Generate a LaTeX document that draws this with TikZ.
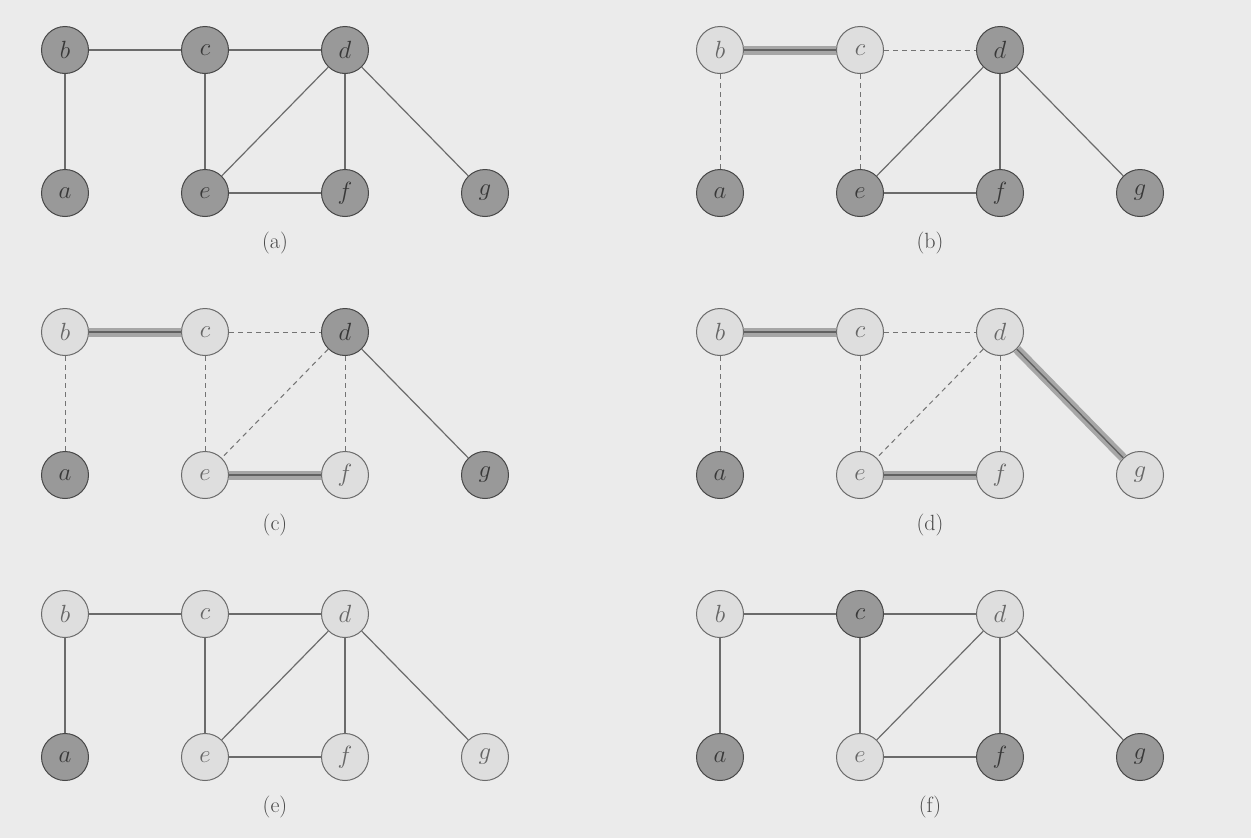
\documentclass[tikz,border=0pt]{standalone}
\usepackage{tikz}
\begin{document}
\begin{tikzpicture}[x=1pt,y=-1pt,
  nd/.style={circle, minimum size=47pt, inner sep=0pt, line width=1pt, font=\fontsize{28}{28}\selectfont},
  dk/.style={nd, draw=black!72, fill=black!40, text=black!78},
  lt/.style={nd, draw=black!58, fill=black!13, text=black!60},
  sol/.style={draw=black!58, line width=1.2pt},
  dsh/.style={draw=black!55, line width=1pt, dash pattern=on 5pt off 4pt},
  thk/.style={draw=black!62, line width=1.4pt, preaction={draw=black!35, line width=9pt}},
  lab/.style={font=\fontsize{22}{22}\selectfont, text=black!72}]
\fill[black!8] (0,0) rectangle (1251,838);
\useasboundingbox (0,0) rectangle (1251,838);

% ---------- (a)
\begin{scope}[shift={(65,50)}]
\node[dk] (aA) at (0,143) {$a$};
\node[dk] (bA) at (0,0) {$b$};
\node[dk] (cA) at (140,0) {$c$};
\node[dk] (dA) at (280,0) {$d$};
\node[dk] (eA) at (140,143) {$e$};
\node[dk] (fA) at (280,143) {$f$};
\node[dk] (gA) at (420,143) {$g$};
\node[lab] (lA) at (210,193) {(a)};
\draw[sol] (bA) -- (cA);
\draw[sol] (cA) -- (dA);
\draw[sol] (bA) -- (aA);
\draw[sol] (cA) -- (eA);
\draw[sol] (dA) -- (eA);
\draw[sol] (dA) -- (fA);
\draw[sol] (dA) -- (gA);
\draw[sol] (eA) -- (fA);
\end{scope}

% ---------- (b)
\begin{scope}[shift={(720,50)}]
\node[dk] (aB) at (0,143) {$a$};
\node[lt] (bB) at (0,0) {$b$};
\node[lt] (cB) at (140,0) {$c$};
\node[dk] (dB) at (280,0) {$d$};
\node[dk] (eB) at (140,143) {$e$};
\node[dk] (fB) at (280,143) {$f$};
\node[dk] (gB) at (420,143) {$g$};
\node[lab] (lB) at (210,193) {(b)};
\draw[thk] (bB) -- (cB);
\draw[dsh] (cB) -- (dB);
\draw[dsh] (bB) -- (aB);
\draw[dsh] (cB) -- (eB);
\draw[sol] (dB) -- (eB);
\draw[sol] (dB) -- (fB);
\draw[sol] (dB) -- (gB);
\draw[sol] (eB) -- (fB);
\end{scope}

% ---------- (c)
\begin{scope}[shift={(65,332)}]
\node[dk] (aC) at (0,143) {$a$};
\node[lt] (bC) at (0,0) {$b$};
\node[lt] (cC) at (140,0) {$c$};
\node[dk] (dC) at (280,0) {$d$};
\node[lt] (eC) at (140,143) {$e$};
\node[lt] (fC) at (280,143) {$f$};
\node[dk] (gC) at (420,143) {$g$};
\node[lab] (lC) at (210,193) {(c)};
\draw[thk] (bC) -- (cC);
\draw[dsh] (cC) -- (dC);
\draw[dsh] (bC) -- (aC);
\draw[dsh] (cC) -- (eC);
\draw[dsh] (dC) -- (eC);
\draw[dsh] (dC) -- (fC);
\draw[sol] (dC) -- (gC);
\draw[thk] (eC) -- (fC);
\end{scope}

% ---------- (d)
\begin{scope}[shift={(720,332)}]
\node[dk] (aD) at (0,143) {$a$};
\node[lt] (bD) at (0,0) {$b$};
\node[lt] (cD) at (140,0) {$c$};
\node[lt] (dD) at (280,0) {$d$};
\node[lt] (eD) at (140,143) {$e$};
\node[lt] (fD) at (280,143) {$f$};
\node[lt] (gD) at (420,143) {$g$};
\node[lab] (lD) at (210,193) {(d)};
\draw[thk] (bD) -- (cD);
\draw[dsh] (cD) -- (dD);
\draw[dsh] (bD) -- (aD);
\draw[dsh] (cD) -- (eD);
\draw[dsh] (dD) -- (eD);
\draw[dsh] (dD) -- (fD);
\draw[thk] (dD) -- (gD);
\draw[thk] (eD) -- (fD);
\end{scope}

% ---------- (e)
\begin{scope}[shift={(65,614)}]
\node[dk] (aE) at (0,143) {$a$};
\node[lt] (bE) at (0,0) {$b$};
\node[lt] (cE) at (140,0) {$c$};
\node[lt] (dE) at (280,0) {$d$};
\node[lt] (eE) at (140,143) {$e$};
\node[lt] (fE) at (280,143) {$f$};
\node[lt] (gE) at (420,143) {$g$};
\node[lab] (lE) at (210,193) {(e)};
\draw[sol] (bE) -- (cE);
\draw[sol] (cE) -- (dE);
\draw[sol] (bE) -- (aE);
\draw[sol] (cE) -- (eE);
\draw[sol] (dE) -- (eE);
\draw[sol] (dE) -- (fE);
\draw[sol] (dE) -- (gE);
\draw[sol] (eE) -- (fE);
\end{scope}

% ---------- (f)
\begin{scope}[shift={(720,614)}]
\node[dk] (aF) at (0,143) {$a$};
\node[lt] (bF) at (0,0) {$b$};
\node[dk] (cF) at (140,0) {$c$};
\node[lt] (dF) at (280,0) {$d$};
\node[lt] (eF) at (140,143) {$e$};
\node[dk] (fF) at (280,143) {$f$};
\node[dk] (gF) at (420,143) {$g$};
\node[lab] (lF) at (210,193) {(f)};
\draw[sol] (bF) -- (cF);
\draw[sol] (cF) -- (dF);
\draw[sol] (bF) -- (aF);
\draw[sol] (cF) -- (eF);
\draw[sol] (dF) -- (eF);
\draw[sol] (dF) -- (fF);
\draw[sol] (dF) -- (gF);
\draw[sol] (eF) -- (fF);
\end{scope}
\end{tikzpicture}
\end{document}
